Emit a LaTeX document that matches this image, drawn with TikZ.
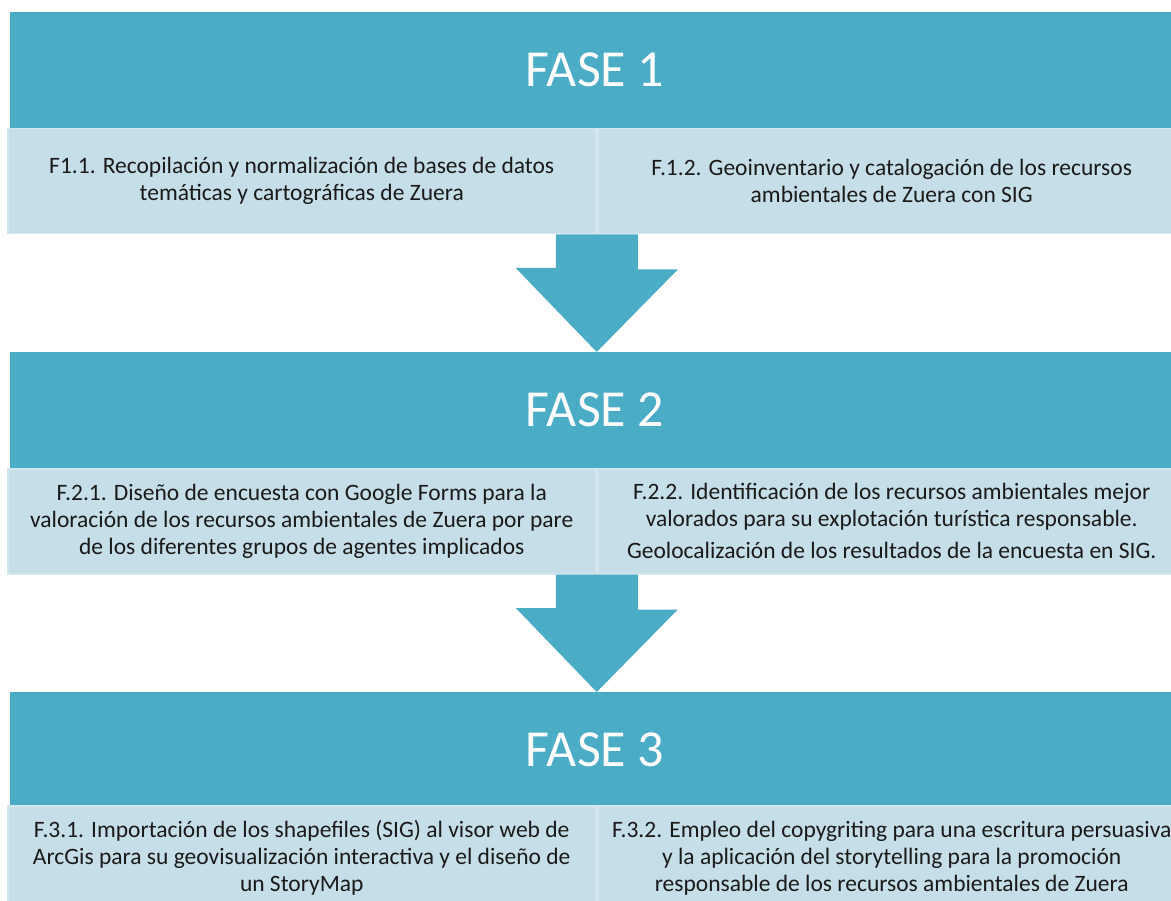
\documentclass[tikz,border=0pt]{standalone}
\usepackage{fontspec}
\setmainfont{Carlito}
\usetikzlibrary{calc}
\definecolor{hdrc}{HTML}{4BACC6}
\definecolor{lbox}{HTML}{C5DEE7}
\definecolor{lline}{HTML}{D3E6ED}
\definecolor{txtc}{HTML}{1A1A1A}
\begin{document}
\begin{tikzpicture}[x=1pt,y=-1pt,
  hdr/.style={fill=hdrc, minimum width=1170pt, minimum height=116pt, inner sep=0pt,
    anchor=north west, font=\fontsize{52}{56}\selectfont, text=white},
  sub/.style={fill=lbox, draw=lline, line width=1.5pt, minimum width=588pt, minimum height=105pt,
    inner sep=0pt, anchor=north west, align=center, text=txtc,
    font=\fontsize{23.5}{27}\selectfont},
  arr/.style={fill=hdrc}]
\useasboundingbox (0,0) rectangle (1171,901);
\clip (0,0) rectangle (1171,901);
% Phase 1
\node[hdr] (h1) at (10,12) {FASE 1};
\node[sub] (a1) at (7,128) {F1.1. Recopilación y normalización de bases de datos\\temáticas y cartográficas de Zuera};
\node[sub] (b1) at (597,128) {F.1.2. Geoinventario y catalogación de los recursos\\ambientales de Zuera con SIG};
% Phase 2
\node[hdr] (h2) at (10,352) {FASE 2};
\node[sub] (a2) at (7,468) {F.2.1. Diseño de encuesta con Google Forms para la\\valoración de los recursos ambientales de Zuera por pare\\de los diferentes grupos de agentes implicados};
\node[sub] (b2) at (597,468) {F.2.2. Identificación de los recursos ambientales mejor\\valorados para su explotación turística responsable.\\[5pt]Geolocalización de los resultados de la encuesta en SIG.};
% Phase 3
\node[hdr] (h3) at (10,692) {FASE 3};
\node[sub] (a3) at (7,805) {F.3.1. Importación de los shapefiles (SIG) al visor web de\\ArcGis para su geovisualización interactiva y el diseño de\\un StoryMap};
\node[sub] (b3) at (597,805) {F.3.2. Empleo del copygriting para una escritura persuasiva\\y la aplicación del storytelling para la promoción\\responsable de los recursos ambientales de Zuera};
% Arrows
\coordinate (s1) at ($(a1.south east)!0.5!(b1.south west)$);
\coordinate (t1) at (s1 |- h2.north);
\coordinate (s2) at ($(a2.south east)!0.5!(b2.south west)$);
\coordinate (t2) at (s2 |- h3.north);
\fill[arr] (s1) ++(-41,0) -- ++(82,0) -- ++(0,35) -- ++(40,0) -- (t1) -- ++(-81,-84) -- ++(40,0) -- cycle;
\fill[arr] (s2) ++(-41,0) -- ++(82,0) -- ++(0,35) -- ++(40,0) -- (t2) -- ++(-81,-84) -- ++(40,0) -- cycle;
\end{tikzpicture}
\end{document}
